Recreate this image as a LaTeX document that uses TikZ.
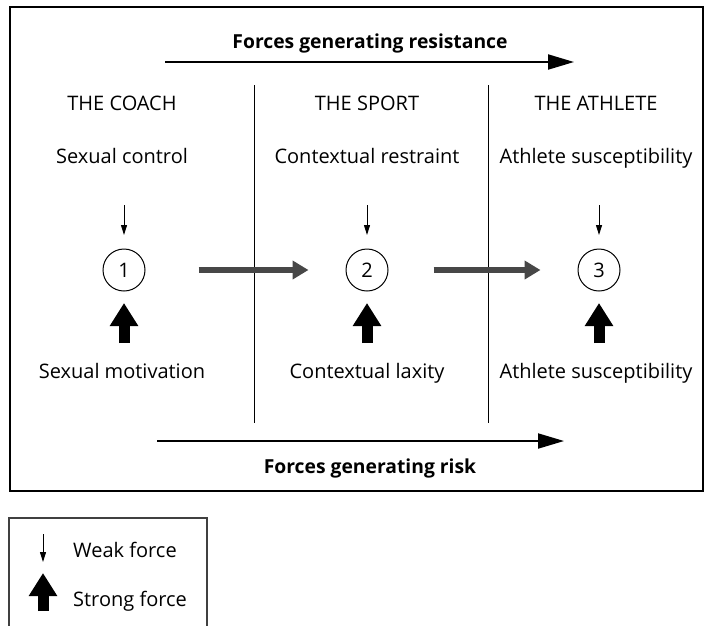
\documentclass[tikz,border=0pt]{standalone}
\usepackage{fontspec}
\setmainfont{Open Sans}
\usetikzlibrary{arrows.meta}
\begin{document}
\begin{tikzpicture}[x=1pt,y=-1pt,
  lbl/.style={anchor=base,inner sep=0pt,font=\fontsize{20}{23}\selectfont},
  blbl/.style={anchor=base,inner sep=0pt,font=\fontsize{19.3}{22}\selectfont\bfseries},
  circ/.style={circle,draw,line width=1pt,minimum size=42pt,inner sep=0pt,font=\fontsize{20}{23}\selectfont},
  weak/.style={line width=1pt,-{Triangle[length=10pt,width=6pt]}},
  strong/.style={line width=11pt,-{Triangle[length=23pt,width=27pt]}},
  flow/.style={line width=2pt,-{Triangle[length=26pt,width=15pt]}},
  transfer/.style={line width=5.5pt,draw=black!72,-{Triangle[length=16pt,width=18pt]}},
  divider/.style={line width=1pt}]
\useasboundingbox (0,0) rectangle (708,625);
% main frame
\draw[line width=2.5pt] (10,7) rectangle (703,491);
% legend frame (open at the bottom edge)
\draw[line width=1.2pt,draw=black!75] (9,630) -- (9,518) -- (207,518) -- (207,630);
% dividers
\draw[divider] (254,85) -- (254,423);
\draw[divider] (488,85) -- (488,423);
% top flow
\node[blbl] (res) at (370,48) {Forces generating resistance};
\coordinate (rs) at (165,62);
\coordinate (re) at (574,62);
\draw[flow] (rs) -- (re);
% bottom flow
\coordinate (ks) at (157,441);
\coordinate (ke) at (564,441);
\draw[flow] (ks) -- (ke);
\node[blbl] (risk) at (370,473) {Forces generating risk};
% columns
\node[lbl] (h1) at (122,110.5) {THE COACH};
\node[lbl] (h2) at (367,110.5) {THE SPORT};
\node[lbl] (h3) at (596,110.5) {THE ATHLETE};
\node[lbl] (t1) at (122,163) {Sexual control};
\node[lbl] (t2) at (367,163) {Contextual restraint};
\node[lbl] (t3) at (596,163) {Athlete susceptibility};
\node[lbl] (b1) at (122,378) {Sexual motivation};
\node[lbl] (b2) at (367,378) {Contextual laxity};
\node[lbl] (b3) at (596,378) {Athlete susceptibility};
% circles
\node[circ] (c1) at (124,270) {1};
\node[circ] (c2) at (367,270) {2};
\node[circ] (c3) at (599,270) {3};
% weak and strong forces
\foreach \i/\x in {1/124,2/367,3/599}{
  \coordinate (w\i a) at (\x,205);
  \coordinate (w\i b) at (\x,235);
  \draw[weak] (w\i a) -- (w\i b);
  \coordinate (s\i a) at (\x,343);
  \coordinate (s\i b) at (\x,303);
  \draw[strong] (s\i a) -- (s\i b);
}
% transfers
\draw[transfer,shorten <=53pt,shorten >=37pt] (c1) -- (c2);
\draw[transfer,shorten <=45pt,shorten >=37pt] (c2) -- (c3);
% legend
\coordinate (lw1) at (43,534);
\coordinate (lw2) at (43,562);
\draw[weak] (lw1) -- (lw2);
\node[lbl,anchor=base west] (lwt) at (73,557) {Weak force};
\coordinate (ls1) at (43,611);
\coordinate (ls2) at (43,573);
\draw[strong] (ls1) -- (ls2);
\node[lbl,anchor=base west] (lst) at (73,606) {Strong force};
\end{tikzpicture}
\end{document}
